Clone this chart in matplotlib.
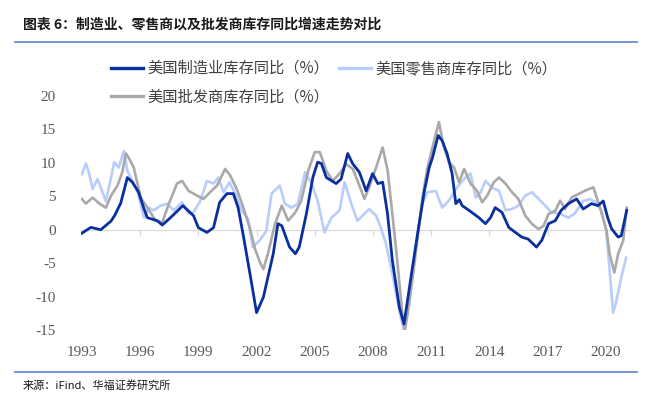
import matplotlib
matplotlib.use("Agg")
import matplotlib.pyplot as plt
from matplotlib.transforms import blended_transform_factory
from matplotlib.lines import Line2D

plt.rcParams['font.family'] = ['Noto Sans CJK SC', 'DejaVu Sans']

# ---- data (decimal year, % yoy) ----
mfg_t = [1993.0, 1993.46, 1993.97, 1994.5, 1994.7, 1995.0, 1995.34, 1995.6, 1995.92, 1996.2, 1996.37,
         1996.88, 1997.14, 1997.56, 1998.2, 1998.75, 1999.0, 1999.44, 1999.78, 2000.1, 2000.47,
         2000.8, 2001.05, 2001.3, 2001.66, 2002.0, 2002.35, 2002.86, 2003.1, 2003.3, 2003.7,
         2004.0, 2004.2, 2004.57, 2004.9, 2005.15, 2005.34, 2005.6, 2006.1, 2006.36, 2006.7,
         2006.95, 2007.3, 2007.65, 2007.98, 2008.25, 2008.5, 2008.75, 2009.0, 2009.36, 2009.6,
         2009.96, 2010.3, 2010.65, 2010.9, 2011.07, 2011.36, 2011.57, 2011.82, 2012.08, 2012.27,
         2012.45, 2012.6, 2012.95, 2013.46, 2013.8, 2014.06, 2014.3, 2014.65, 2015.0, 2015.34,
         2015.67, 2016.0, 2016.43, 2016.7, 2017.05, 2017.4, 2017.7, 2018.07, 2018.5, 2018.84,
         2019.26, 2019.6, 2019.87, 2020.1, 2020.3, 2020.64, 2020.8, 2021.0, 2021.08]
mfg_v = [-0.5, 0.35, 0.0, 1.3, 2.2, 4.0, 7.8, 7.1, 5.6, 3.1, 1.8,
         1.35, 0.7, 1.8, 3.6, 2.1, 0.3, -0.4, 0.3, 4.1, 5.4,
         5.4, 3.3, -0.6, -6.6, -12.4, -10.1, -3.6, 0.9, 0.6, -2.6,
         -3.6, -2.6, 2.4, 7.8, 10.1, 9.9, 7.8, 6.9, 7.6, 11.4,
         9.9, 8.6, 5.8, 8.4, 6.9, 7.1, 2.4, -4.6, -11.6, -14.1,
         -7.1, -0.6, 5.8, 9.3, 10.8, 14.1, 13.3, 11.4, 8.4, 3.9,
         4.5, 3.6, 2.9, 1.8, 0.9, 1.8, 3.3, 2.6, 0.35, -0.4,
         -1.1, -1.4, -2.6, -1.6, 0.9, 1.35, 2.9, 3.9, 4.6, 3.1,
         3.9, 3.6, 4.3, 1.8, 0.15, -1.1, -0.9, 1.8, 2.9]

ret_t = [1993.0, 1993.2, 1993.37, 1993.55, 1993.8, 1994.06, 1994.23, 1994.5, 1994.66, 1994.9,
         1995.16, 1995.34, 1995.6, 1995.85, 1996.2, 1996.44, 1996.7, 1997.05, 1997.4, 1997.73,
         1998.16, 1998.5, 1998.75, 1999.1, 1999.44, 1999.78, 2000.03, 2000.3, 2000.6, 2000.9,
         2001.23, 2001.56, 2001.8, 2002.16, 2002.5, 2002.77, 2003.2, 2003.46, 2003.8, 2004.13,
         2004.5, 2004.84, 2005.15, 2005.5, 2005.86, 2006.28, 2006.54, 2006.95, 2007.2, 2007.46,
         2007.8, 2008.16, 2008.4, 2008.67, 2009.0, 2009.36, 2009.57, 2009.87, 2010.2, 2010.55,
         2010.8, 2011.24, 2011.57, 2011.9, 2012.33, 2012.7, 2013.03, 2013.3, 2013.55, 2013.8,
         2014.13, 2014.5, 2014.83, 2015.16, 2015.5, 2015.85, 2016.2, 2016.54, 2016.88, 2017.2,
         2017.65, 2018.07, 2018.4, 2018.84, 2019.18, 2019.5, 2019.77, 2020.03, 2020.2, 2020.38,
         2020.53, 2020.8, 2021.05]
ret_v = [8.3, 9.9, 8.4, 6.1, 7.6, 5.6, 4.3, 7.8, 10.1, 9.3,
         11.8, 8.8, 7.3, 5.8, 1.8, 3.3, 2.9, 3.6, 3.9, 2.9,
         4.1, 2.4, 2.6, 4.3, 7.3, 6.9, 7.8, 5.6, 7.1, 5.4,
         2.9, 1.6, -2.6, -1.6, -0.2, 5.4, 6.6, 3.9, 3.3, 3.9,
         8.6, 6.9, 4.3, -0.4, 1.8, 2.9, 7.1, 3.3, 1.35, 2.1,
         3.1, 2.1, 0.35, -2.1, -6.6, -12.1, -14.9, -9.6, -2.6, 3.9,
         5.6, 5.8, 3.3, 4.3, 6.3, 7.6, 8.4, 4.8, 5.6, 7.3,
         6.3, 5.8, 2.9, 3.1, 3.6, 5.1, 5.6, 4.6, 3.6, 2.6,
         2.4, 1.8, 2.4, 4.3, 4.6, 4.1, 2.9, -0.2, -6.1, -12.4,
         -10.9, -7.1, -4.2]

whl_t = [1993.0, 1993.2, 1993.55, 1993.9, 1994.23, 1994.5, 1994.83, 1995.08, 1995.26, 1995.4,
         1995.67, 1996.03, 1996.37, 1996.8, 1997.14, 1997.48, 1997.9, 1998.16, 1998.5, 1998.93,
         1999.27, 1999.6, 1999.96, 2000.38, 2000.64, 2000.98, 2001.32, 2001.67, 2001.92, 2002.18,
         2002.35, 2002.6, 2002.95, 2003.3, 2003.63, 2004.0, 2004.3, 2004.66, 2005.0, 2005.26,
         2005.6, 2005.93, 2006.28, 2006.62, 2006.96, 2007.3, 2007.56, 2007.8, 2008.16, 2008.5,
         2008.76, 2009.0, 2009.27, 2009.53, 2009.65, 2009.87, 2010.2, 2010.55, 2010.81, 2011.15,
         2011.4, 2011.66, 2011.92, 2012.18, 2012.44, 2012.7, 2013.03, 2013.37, 2013.63, 2013.89,
         2014.23, 2014.5, 2014.83, 2015.17, 2015.5, 2015.85, 2016.2, 2016.54, 2016.8, 2017.05,
         2017.4, 2017.65, 2017.9, 2018.25, 2018.6, 2018.94, 2019.36, 2019.7, 2020.04, 2020.2,
         2020.44, 2020.64, 2020.9, 2021.08]
whl_v = [4.6, 3.9, 4.8, 3.9, 3.3, 5.1, 6.6, 8.6, 11.4, 10.8,
         9.3, 4.8, 3.3, 1.35, 1.1, 3.9, 6.9, 7.3, 5.8, 5.1,
         4.6, 5.6, 6.6, 9.1, 8.1, 6.1, 3.3, 0.1, -2.9, -4.9,
         -5.9, -3.4, 0.85, 3.6, 1.35, 2.6, 4.3, 8.8, 11.6, 11.6,
         8.8, 7.3, 8.4, 9.8, 9.1, 6.6, 4.6, 6.3, 9.3, 12.3,
         8.8, 2.35, -5.1, -13.1, -15.0, -11.1, -3.6, 4.8, 9.3, 13.3,
         16.1, 12.3, 10.1, 9.3, 7.1, 9.1, 6.9, 5.8, 4.1, 5.1,
         7.1, 7.8, 6.9, 5.6, 4.6, 2.1, 0.85, 0.1, 0.6, 2.35,
         2.85, 4.35, 3.1, 4.85, 5.35, 5.85, 6.35, 3.35, -0.15, -3.6,
         -6.4, -3.6, -1.6, 3.3]

labels = ['美国制造业库存同比（%）', '美国零售商库存同比（%）', '美国批发商库存同比（%）']
x_ticks = [1993, 1996, 1999, 2002, 2005, 2008, 2011, 2014, 2017, 2020]
y_ticks = [-15, -10, -5, 0, 5, 10, 15, 20]

c_mfg = '#0a2f9f'
c_ret = '#b7cdfb'
c_whl = '#a9a9a9'

W, H = 652, 395
fig = plt.figure(figsize=(W / 100, H / 100), dpi=100)
ax = fig.add_axes([81 / W, 1 - 330 / H, (630 - 81) / W, (330 - 96) / H])

ax.plot(ret_t, ret_v, color=c_ret, lw=1.9, zorder=2)
ax.plot(whl_t, whl_v, color=c_whl, lw=1.9, zorder=3)
ax.plot(mfg_t, mfg_v, color=c_mfg, lw=2.0, zorder=4)

ax.set_xlim(1992.95, 2021.25)
ax.set_ylim(-15, 20)
for s in ['top', 'right', 'left']:
    ax.spines[s].set_visible(False)
ax.spines['bottom'].set_position(('data', 0))
ax.spines['bottom'].set_color('#d9d9d9')
ax.spines['bottom'].set_zorder(1)
ax.set_xticks(x_ticks)
ax.set_xticklabels([])
ax.tick_params(axis='x', length=4, color='#d9d9d9', direction='out')
ax.set_yticks(y_ticks)
ax.set_yticklabels([str(v) for v in y_ticks], fontfamily='Liberation Serif',
                   fontsize=11, color='#595959')
ax.tick_params(axis='y', length=0, pad=18)

tr = blended_transform_factory(ax.transData, ax.transAxes)
for t in x_ticks:
    ax.text(t, -0.095, str(t), transform=tr, ha='center', va='center',
            fontfamily='Liberation Serif', fontsize=11, color='#595959')

handles = [Line2D([], [], color=c_mfg, lw=2.4),
           Line2D([], [], color=c_whl, lw=2.4),
           Line2D([], [], color=c_ret, lw=2.4)]
leg = fig.legend(handles, [labels[0], labels[2], labels[1]], ncol=2,
                 loc='upper left', bbox_to_anchor=(111 / W, 1 - 60 / H),
                 frameon=False, fontsize=11, handlelength=2.1, handletextpad=0.3,
                 columnspacing=0.6, labelspacing=0.75, labelcolor='#404040',
                 borderaxespad=0, borderpad=0)

fig.text(23 / W, 1 - 25 / H, '图表 6：制造业、零售商以及批发商库存同比增速走势对比',
         fontsize=10, fontweight='bold', color='#1a1a1a', va='center', ha='left')
fig.add_artist(Line2D([15 / W, 637 / W], [1 - 42 / H, 1 - 42 / H], color='#5b86c6', lw=1.2))
fig.add_artist(Line2D([15 / W, 637 / W], [1 - 372 / H, 1 - 372 / H], color='#5b86c6', lw=1.2))
fig.text(23 / W, 1 - 385 / H, '来源：iFind、华福证券研究所', fontsize=8, color='#1a1a1a',
         va='center', ha='left')

fig.savefig('out.png', dpi=100)
